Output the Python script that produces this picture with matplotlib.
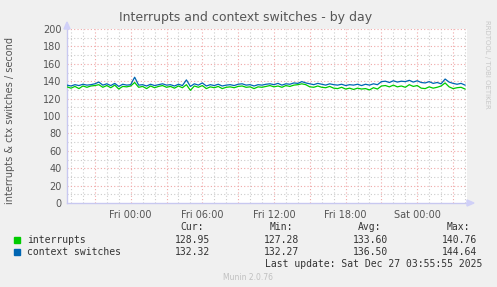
import numpy as np
import matplotlib
matplotlib.use('Agg')
import matplotlib.pyplot as plt

# hours relative to Fri 00:00, one sample every 20 minutes
hours = np.linspace(-16 / 3, 28.0, 101)

ctx = [135.5, 134.5, 136.0, 135.0, 136.5, 135.5, 136.0, 137.0, 139.0, 135.5,
       137.0, 135.0, 137.5, 134.0, 136.5, 135.5, 136.0, 144.6, 135.5, 136.0,
       134.5, 136.5, 135.0, 136.0, 137.0,
       135.5, 136.0, 134.5, 136.5, 135.0, 141.5, 134.0, 137.0, 135.5, 138.0,
       134.5, 136.0, 135.0, 136.5, 134.5, 135.5, 136.0, 135.0, 136.5, 137.0,
       135.5, 136.0, 134.5, 136.0, 135.5,
       136.5, 137.0, 136.0, 137.5, 135.5, 137.0, 136.5, 138.0, 137.5, 139.5,
       138.0, 137.0, 136.0, 137.5, 136.5, 135.5, 137.0, 136.0, 135.5, 136.5,
       135.0, 136.0, 135.5, 136.5, 135.0,
       136.5, 135.5, 137.0, 136.0, 139.5, 140.0, 138.5, 140.5, 139.0, 140.0,
       139.5, 141.0, 139.0, 140.5, 138.5, 138.0, 139.5, 137.5, 138.5, 137.0,
       142.5, 139.0, 137.5, 136.5, 137.5, 135.5]

interrupts = [133.5, 132.0, 134.0, 131.5, 134.5, 133.0, 134.5, 135.0, 136.0, 133.0,
              135.0, 132.5, 135.5, 131.0, 134.0, 133.5, 134.5, 138.5, 133.0, 134.0,
              131.5, 134.5, 132.5, 134.0, 135.0,
              133.0, 134.0, 132.0, 134.5, 132.5, 136.0, 129.5, 134.5, 133.0, 135.0,
              131.5, 133.5, 132.5, 134.0, 131.5, 133.0, 133.5, 132.5, 134.0, 134.5,
              133.0, 133.5, 131.5, 133.5, 133.0,
              134.0, 135.0, 133.5, 134.5, 133.0, 135.0, 134.0, 135.5, 136.0, 137.0,
              136.0, 133.5, 133.0, 134.5, 133.0, 132.5, 134.0, 132.0, 131.5, 133.0,
              131.0, 132.0, 130.5, 132.0, 131.0,
              131.5, 130.0, 132.5, 131.0, 134.5, 135.0, 133.5, 135.5, 133.5, 134.5,
              133.0, 136.0, 134.0, 135.0, 132.0, 131.5, 133.5, 132.0, 133.0, 134.5,
              138.0, 133.5, 131.5, 132.5, 133.0, 131.0]

series_names = ['interrupts', 'context switches']
series_colors = ['#00CC00', '#0066B3']
stats_cur = ['128.95', '132.32']
stats_min = ['127.28', '132.27']
stats_avg = ['133.60', '136.50']
stats_max = ['140.76', '144.64']
xtick_pos = [0, 6, 12, 18, 24]
xtick_labels = ['Fri 00:00', 'Fri 06:00', 'Fri 12:00', 'Fri 18:00', 'Sat 00:00']

W, H = 497, 287
fig = plt.figure(figsize=(W / 100, H / 100), dpi=100, facecolor='#F0F0F0')


def fx(x):
    return x / W


def fy(y):
    return 1 - y / H


ax = fig.add_axes([fx(67), fy(203), 400 / W, 174 / H], facecolor='white')
ax.set_xlim(-16 / 3, 28 + 1 / 6)
ax.set_ylim(0, 200)

# grid: minor grey, major red, dotted
for h in np.arange(-5, 29, 1):
    if h % 3:
        ax.axvline(h, color='#CCCCCC', lw=0.8, ls=(0, (1, 2)), zorder=1)
for v in range(10, 200, 20):
    ax.axhline(v, color='#CCCCCC', lw=0.8, ls=(0, (1, 2)), zorder=1)
for h in np.arange(-3, 29, 3):
    ax.axvline(h, color='#F0A8A8', lw=0.8, ls=(0, (1, 2)), zorder=2)
for v in range(20, 201, 20):
    ax.axhline(v, color='#F0A8A8', lw=0.8, ls=(0, (1, 2)), zorder=2)

for vals, col in zip([interrupts, ctx], series_colors):
    ax.plot(hours, vals, color=col, lw=0.9, zorder=3)

for s in ['top', 'right']:
    ax.spines[s].set_visible(False)
for s in ['left', 'bottom']:
    ax.spines[s].set_color('#C8C8F0')
    ax.spines[s].set_linewidth(1.0)

ax.set_yticks(range(0, 201, 20))
ax.set_xticks(xtick_pos)
ax.set_xticklabels(xtick_labels)
ax.tick_params(axis='both', colors='#555555', labelsize=7, length=0, pad=4)
ax.tick_params(axis='x', pad=5)

# arrows at axis ends
fig.patches.append(plt.Polygon([[fx(64), fy(29)], [fx(70), fy(29)], [fx(67), fy(22)]],
                               closed=True, color='#D0D0F8', transform=fig.transFigure))
fig.patches.append(plt.Polygon([[fx(467), fy(200)], [fx(467), fy(206)], [fx(474), fy(203)]],
                               closed=True, color='#D0D0F8', transform=fig.transFigure))

fig.text(fx(246), fy(18), 'Interrupts and context switches - by day',
         ha='center', va='center', fontsize=9, color='#555555')
fig.text(fx(10), fy(121), 'interrupts & ctx switches / second', rotation=90,
         ha='center', va='center', fontsize=7, color='#555555')
fig.text(fx(487), fy(20), 'RRDTOOL / TOBI OETIKER', rotation=270,
         ha='center', va='top', fontsize=5, color='#C8C8C8')

mono = 'DejaVu Sans Mono'
txt = '#333333'
for hx, lab in zip([204, 293, 381, 470], ['Cur:', 'Min:', 'Avg:', 'Max:']):
    fig.text(fx(hx), fy(227), lab, ha='right', va='center', family=mono, fontsize=7, color=txt)

for i, name in enumerate(series_names):
    y = 240 + 12 * i
    fig.patches.append(plt.Rectangle((fx(14), fy(y + 3)), 6 / W, 6 / H,
                                     color=series_colors[i], transform=fig.transFigure))
    fig.text(fx(27), fy(y), name, ha='left', va='center', family=mono, fontsize=7, color=txt)
    for vx, col in zip([210, 299, 388, 477], [stats_cur, stats_min, stats_avg, stats_max]):
        fig.text(fx(vx), fy(y), col[i], ha='right', va='center', family=mono,
                 fontsize=7, color=txt)

fig.text(fx(482), fy(264), 'Last update: Sat Dec 27 03:55:55 2025', ha='right', va='center',
         family=mono, fontsize=7, color=txt)
fig.text(fx(248), fy(277), 'Munin 2.0.76', ha='center', va='center', fontsize=5.5,
         color='#C0C0C0')

fig.savefig('out.png', dpi=100, facecolor=fig.get_facecolor())
